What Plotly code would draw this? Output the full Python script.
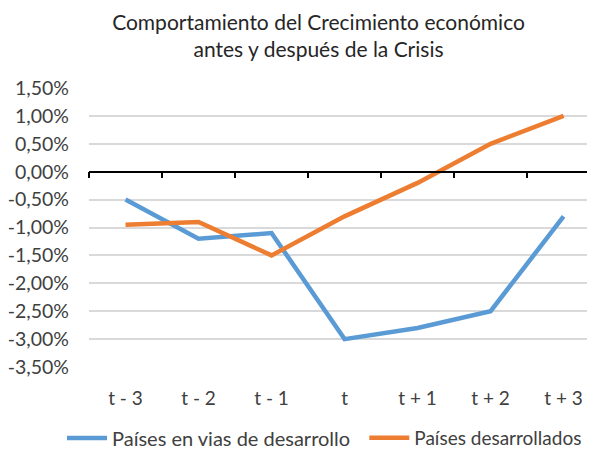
import plotly.graph_objects as go

categories = ["t - 3", "t - 2", "t - 1", "t", "t + 1", "t + 2", "t + 3"]
en_vias = [-0.005, -0.012, -0.011, -0.030, -0.028, -0.025, -0.008]
desarrollados = [-0.0095, -0.009, -0.015, -0.008, -0.002, 0.005, 0.010]
y_ticks = [0.015, 0.01, 0.005, 0.0, -0.005, -0.01, -0.015, -0.02, -0.025, -0.03, -0.035]
y_labels = [f"{v*100:.2f}%".replace(".", ",") for v in y_ticks]

FONT = "Lato"
TXT = "#404040"
fig = go.Figure()
fig.add_trace(go.Scatter(x=categories, y=en_vias, mode="lines",
                         name="Países en vias de desarrollo", legend="legend",
                         line=dict(color="#5B9BD5", width=4.5)))
fig.add_trace(go.Scatter(x=categories, y=desarrollados, mode="lines",
                         name="Países desarrollados", legend="legend2",
                         line=dict(color="#ED7D31", width=4.5)))
# overlay axis for the zero crossing line with boundary ticks
fig.add_trace(go.Scatter(x=categories, y=[None]*7, xaxis="x2", showlegend=False,
                         hoverinfo="skip"))

legend_common = dict(orientation="h", xref="container", yref="container",
                     xanchor="left", y=0.025, yanchor="middle", itemwidth=40,
                     bgcolor="rgba(0,0,0,0)")

fig.update_layout(
    width=587, height=441,
    margin=dict(l=81, r=0, t=80, b=82, autoexpand=False),
    paper_bgcolor="white", plot_bgcolor="white",
    font=dict(family=FONT, size=19, color=TXT),
    title=dict(text="Comportamiento del Crecimiento económico<br>antes y después de la Crisis",
               x=0.529, xanchor="center", yref="container", y=0.95, yanchor="middle",
               font=dict(family=FONT, size=21, color="#262626")),
    xaxis=dict(type="category", range=[-0.5, 6.43], showgrid=False, showline=False,
               ticks="", ticklabelstandoff=18, tickfont=dict(size=19, color=TXT),
               zeroline=False, automargin=False),
    xaxis2=dict(type="category", overlaying="x", matches="x", anchor="free",
                position=0.7, side="bottom", showline=True, linecolor="#000000",
                linewidth=1.5, ticks="outside", tickson="boundaries", ticklen=6,
                tickwidth=1.5, tickcolor="#000000", showticklabels=False,
                showgrid=False, zeroline=False, automargin=False),
    yaxis=dict(range=[-0.035, 0.015], tickvals=y_ticks, ticktext=y_labels,
               showgrid=True, gridcolor="#D9D9D9", gridwidth=1.5,
               zeroline=False, showline=False, ticks="", ticklabelstandoff=19,
               tickfont=dict(size=19.5, color=TXT), automargin=False),
    legend=dict(x=0.092, font=dict(size=20, color=TXT), **legend_common),
    legend2=dict(x=0.607, font=dict(size=19, color=TXT), **legend_common),
    showlegend=True,
)

fig.write_html("out.html")
